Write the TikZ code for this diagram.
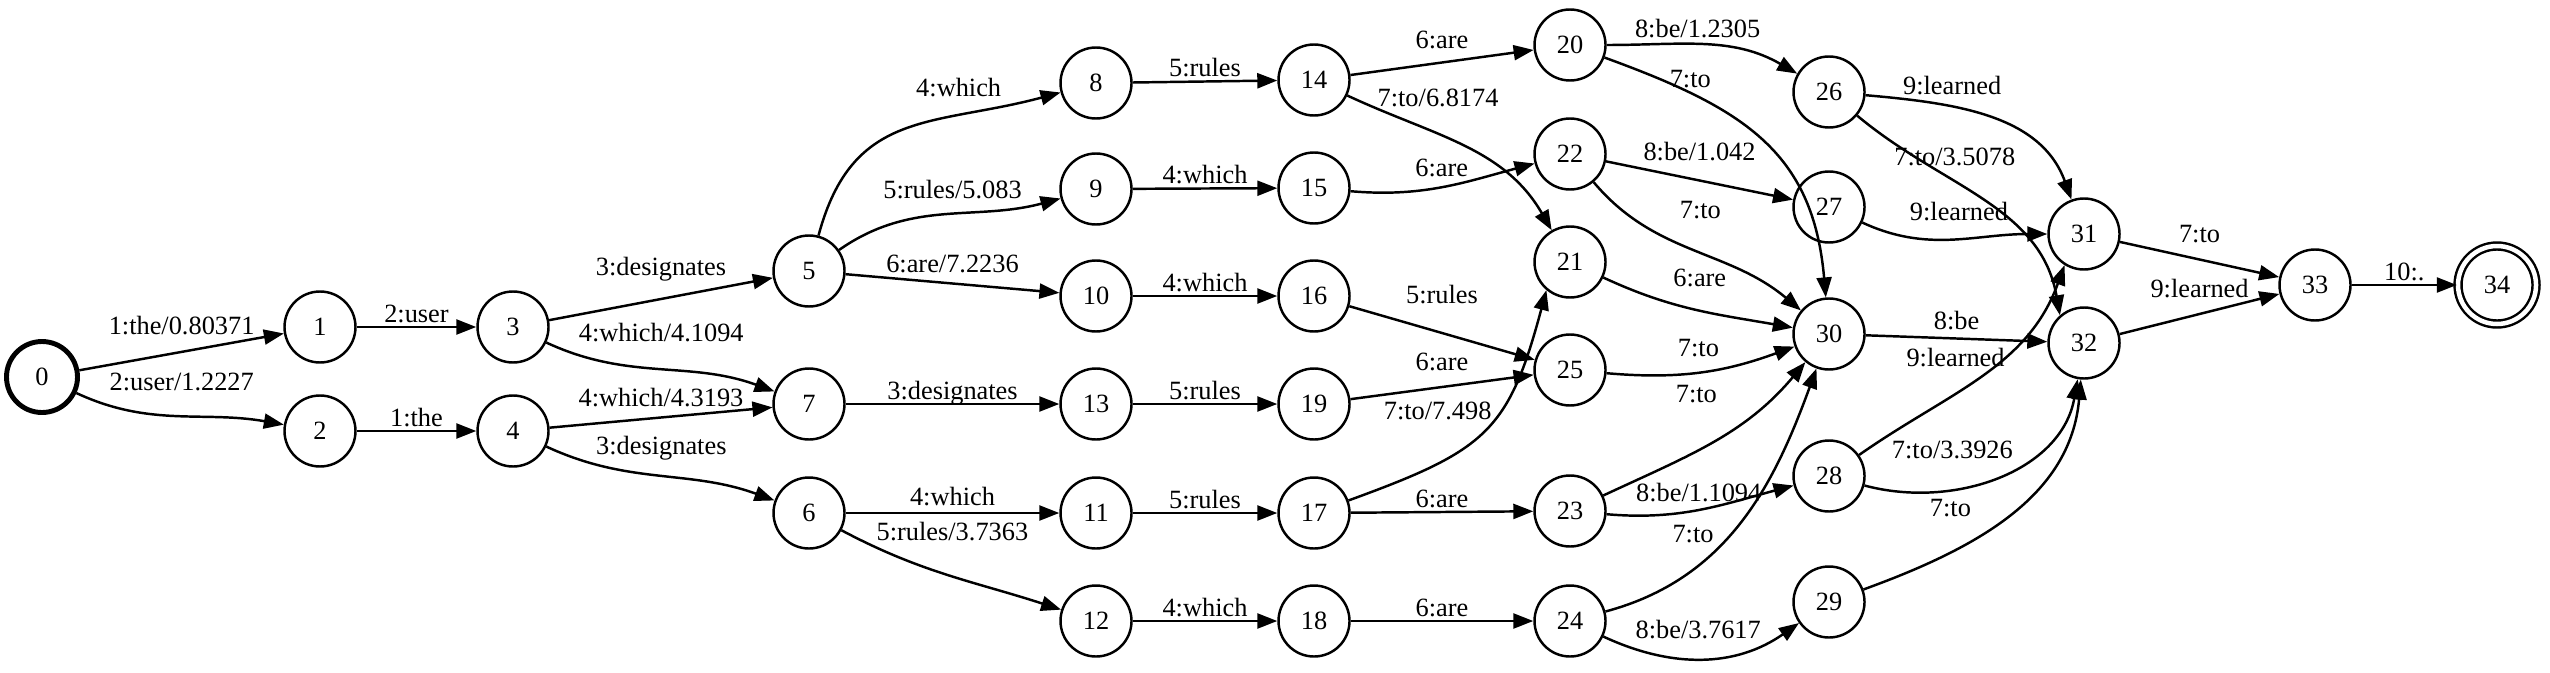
\documentclass[tikz,border=0pt]{standalone}
\usepackage{fontspec}
\setmainfont{Liberation Serif}
\usetikzlibrary{arrows.meta}

\begin{document}
\begin{tikzpicture}[
    every node/.style={font=\fontsize{7.5}{9}\selectfont},
    % States of the transducer
    state/.style={circle, draw, line width=0.7pt, minimum size=7.1mm, inner sep=0pt},
    start/.style={state, line width=1.4pt},
    final/.style={state, double, double distance=0.45mm, minimum size=7.8mm},
    % Transition arrow and its label
    arrow/.style={-{Triangle[length=2mm, width=1.5mm]}, line width=0.7pt},
    lbl/.style={inner sep=0pt, text height=5pt, text depth=1pt}
]
\useasboundingbox (0,0) rectangle (25.5,6.72);

% === STATES ===

% First columns
\node[start] (q0) at (0.42, 2.95) {0};
\node[state] (q1) at (3.20, 3.45) {1};
\node[state] (q2) at (3.20, 2.41) {2};
\node[state] (q3) at (5.13, 3.45) {3};
\node[state] (q4) at (5.13, 2.41) {4};
\node[state] (q5) at (8.09, 4.01) {5};
\node[state] (q7) at (8.09, 2.68) {7};
\node[state] (q6) at (8.09, 1.59) {6};

% Middle columns
\node[state] (q8) at (10.96, 5.89) {8};
\node[state] (q9) at (10.96, 4.83) {9};
\node[state] (q10) at (10.96, 3.76) {10};
\node[state] (q13) at (10.96, 2.68) {13};
\node[state] (q11) at (10.96, 1.59) {11};
\node[state] (q12) at (10.96, 0.51) {12};
\node[state] (q14) at (13.14, 5.92) {14};
\node[state] (q15) at (13.14, 4.84) {15};
\node[state] (q16) at (13.14, 3.76) {16};
\node[state] (q19) at (13.14, 2.68) {19};
\node[state] (q17) at (13.14, 1.59) {17};
\node[state] (q18) at (13.14, 0.51) {18};
\node[state] (q20) at (15.70, 6.27) {20};
\node[state] (q22) at (15.70, 5.18) {22};
\node[state] (q21) at (15.70, 4.10) {21};
\node[state] (q25) at (15.70, 3.02) {25};
\node[state] (q23) at (15.70, 1.61) {23};
\node[state] (q24) at (15.70, 0.51) {24};

% Last columns
\node[state] (q26) at (18.29, 5.80) {26};
\node[state] (q27) at (18.29, 4.65) {27};
\node[state] (q30) at (18.29, 3.38) {30};
\node[state] (q28) at (18.29, 1.96) {28};
\node[state] (q29) at (18.29, 0.70) {29};
\node[state] (q31) at (20.84, 4.38) {31};
\node[state] (q32) at (20.84, 3.29) {32};
\node[state] (q33) at (23.15, 3.87) {33};
\node[final] (q34) at (24.97, 3.87) {34};

% === TRANSITIONS ===

% 0 -> 1, 2 -> 3, 4
\draw[arrow] (q0) -- node[lbl, above=3.6pt] {1:the/0.80371} (q1);
\draw[arrow] (q0) to[out=-25, in=170]
    node[lbl, xshift=0.04cm, yshift=0.33cm] {2:user/1.2227} (q2);
\draw[arrow] (q1) -- node[lbl, above] {2:user} (q3);
\draw[arrow] (q2) -- node[lbl, above] {1:the} (q4);

% 3, 4 -> 5, 7, 6
\draw[arrow] (q3) -- node[lbl, above=5.3pt] {3:designates} (q5);
\draw[arrow] (q3) to[out=-25, in=160]
    node[lbl, xshift=0.02cm, yshift=0.356cm] {4:which/4.1094} (q7);
\draw[arrow] (q4) -- node[lbl, above=1.7pt] {4:which/4.3193} (q7);
\draw[arrow] (q4) to[out=-25, in=160]
    node[lbl, xshift=0.021cm, yshift=0.291cm] {3:designates} (q6);

% 5, 7, 6 -> 8 ... 12
\draw[arrow] (q5) to[out=75, in=195, looseness=1.2]
    node[lbl, xshift=0.541cm, yshift=0.393cm] {4:which} (q8);
\draw[arrow] (q5) to[out=35, in=195]
    node[lbl, xshift=0.076cm, yshift=0.225cm] {5:rules/5.083} (q9);
\draw[arrow] (q5) -- node[lbl, above=1.7pt] {6:are/7.2236} (q10);
\draw[arrow] (q7) -- node[lbl, above] {3:designates} (q13);
\draw[arrow] (q6) -- node[lbl, above=0.7pt] {4:which} (q11);
\draw[arrow] (q6) to[out=-28, in=162]
    node[lbl, xshift=0.035cm, yshift=0.422cm] {5:rules/3.7363} (q12);

% 8 ... 12 -> 14 ... 18
\draw[arrow] (q8) -- node[lbl, above] {5:rules} (q14);
\draw[arrow] (q9) -- node[lbl, above] {4:which} (q15);
\draw[arrow] (q10) -- node[lbl, above] {4:which} (q16);
\draw[arrow] (q13) -- node[lbl, above] {5:rules} (q19);
\draw[arrow] (q11) -- node[lbl, above] {5:rules} (q17);
\draw[arrow] (q12) -- node[lbl, above] {4:which} (q18);

% 14 ... 18 -> 20 ... 25
\draw[arrow] (q14) -- node[lbl, above=2.7pt] {6:are} (q20);
\draw[arrow] (q14) to[out=-25, in=120]
    node[lbl, xshift=-0.26cm, yshift=0.475cm] {7:to/6.8174} (q21);
\draw[arrow] (q15) to[out=-5, in=195]
    node[lbl, xshift=-0.017cm, yshift=0.174cm] {6:are} (q22);
\draw[arrow] (q16) -- node[lbl, above=7pt] {5:rules} (q25);
\draw[arrow] (q19) -- node[lbl, above=3.3pt] {6:are} (q25);
\draw[arrow] (q17) to[out=20, in=-105, looseness=1.3]
    node[lbl, xshift=-0.4725cm, yshift=0.176cm] {7:to/7.498} (q21.-130);
\draw[arrow] (q17) -- node[lbl, above] {6:are} (q23);
\draw[arrow] (q18) -- node[lbl, above] {6:are} (q24);

% 20 ... 25 -> 26 ... 30
\draw[arrow] (q20) to[out=0, in=150]
    node[lbl, xshift=-0.081cm, yshift=0.151cm] {8:be/1.2305} (q26);
\draw[arrow] (q20) to[out=-20, in=95, looseness=1.15]
    node[lbl, xshift=-0.719cm, yshift=0.607cm] {7:to} (q30);
\draw[arrow] (q22) -- node[lbl, above=4.3pt] {8:be/1.042} (q27);
\draw[arrow] (q22) to[out=-50, in=140]
    node[lbl, xshift=0.075cm, yshift=0.39cm] {7:to} (q30);
\draw[arrow] (q21) to[out=-25, in=170]
    node[lbl, xshift=0.04cm, yshift=0.304cm] {6:are} (q30);
\draw[arrow] (q25) to[out=-5, in=200]
    node[lbl, xshift=-0.037cm, yshift=0.223cm] {7:to} (q30);
\draw[arrow] (q23) to[out=25, in=230]
    node[lbl, xshift=-0.174cm, yshift=0.456cm] {7:to} (q30);
\draw[arrow] (q23) to[out=-5, in=195]
    node[lbl, xshift=-0.022cm, yshift=0.151cm] {8:be/1.1094} (q28);
\draw[arrow] (q24) to[out=15, in=-110]
    node[lbl, xshift=-0.473cm, yshift=-0.134cm] {7:to} (q30);
\draw[arrow] (q24) to[out=-25, in=215]
    node[lbl, xshift=-0.054cm, yshift=0.267cm] {8:be/3.7617} (q29);

% 26 ... 30 -> 31, 32
\draw[arrow] (q26) to[out=-5, in=110]
    node[lbl, xshift=-0.385cm, yshift=0.309cm] {9:learned} (q31);
\draw[arrow] (q26) to[out=-40, in=100]
    node[lbl, xshift=-0.2845cm, yshift=0.4232cm] {7:to/3.5078} (q32.131);
\draw[arrow] (q27) to[out=-25, in=180]
    node[lbl, xshift=0.067cm, yshift=0.261cm] {9:learned} (q31);
\draw[arrow] (q30) -- node[lbl, above=1.1pt] {8:be} (q32);
\draw[arrow] (q28) to[out=35, in=-110]
    node[lbl, xshift=-0.259cm, yshift=0.16cm] {9:learned} (q31.-122);
\draw[arrow] (q28) to[out=-15, in=-100]
    node[lbl, xshift=-0.464cm, yshift=0.247cm] {7:to/3.3926} (q32);
\draw[arrow] (q29) to[out=20, in=-95]
    node[lbl, xshift=-0.596cm, yshift=0.043cm] {7:to} (q32);

% 31, 32 -> 33 -> 34
\draw[arrow] (q31) -- node[lbl, above=3.4pt] {7:to} (q33);
\draw[arrow] (q32) -- node[lbl, above=3.3pt] {9:learned} (q33);
\draw[arrow] (q33) -- node[lbl, above] {10:.} (q34);

\end{tikzpicture}
\end{document}
